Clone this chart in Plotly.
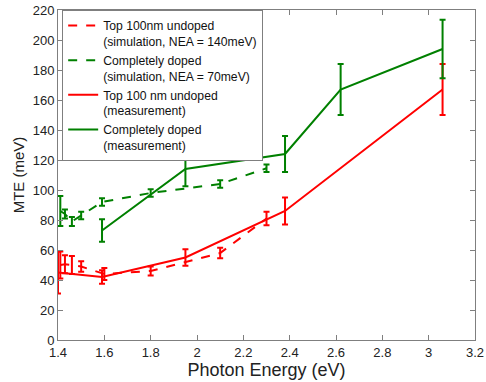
import plotly.graph_objects as go

# Simulation: top 100nm undoped
sim_undoped_x = [1.41, 1.43, 1.46, 1.50, 1.60, 1.80, 2.10, 2.30]
sim_undoped_y = [50, 50.5, 50, 49, 44, 46, 58, 81]
sim_undoped_err = [9, 6, 6, 3.5, 4, 3, 3.5, 4.5]

# Simulation: completely doped
sim_doped_x = [1.41, 1.43, 1.46, 1.50, 1.59, 1.80, 2.10, 2.30]
sim_doped_y = [86, 84, 79, 83, 92, 98, 104, 114.5]
sim_doped_err = [10, 3, 3, 2.5, 2.5, 2.5, 2.5, 2.5]

# Measurement: top 100 nm undoped
meas_undoped_x = [1.40, 1.59, 1.95, 2.38, 3.06]
meas_undoped_y = [45, 42, 55, 86, 167]
meas_undoped_err = [14, 4.5, 5.5, 9, 17]

# Measurement: completely doped
meas_doped_x = [1.59, 1.95, 2.38, 2.62, 3.06]
meas_doped_y = [73, 114, 124, 167, 194]
meas_doped_err = [7.5, 11.5, 12, 17, 19.5]

x_ticks = [1.4, 1.6, 1.8, 2.0, 2.2, 2.4, 2.6, 2.8, 3.0, 3.2]
x_tick_labels = ["1.4", "1.6", "1.8", "2", "2.2", "2.4", "2.6", "2.8", "3", "3.2"]
y_ticks = list(range(0, 221, 20))

RED = "#ff0000"
GREEN = "#008000"

fig = go.Figure()

def add(x, y, err, name, color, dash):
    fig.add_trace(go.Scatter(
        x=x, y=y, mode="lines", name=name,
        line=dict(color=color, width=2, dash=dash),
        error_y=dict(type="data", array=err, visible=True, color=color,
                     thickness=2, width=3),
    ))

add(sim_undoped_x, sim_undoped_y, sim_undoped_err,
    "Top 100nm undoped<br>(simulation, NEA = 140meV)", RED, "dash")
add(sim_doped_x, sim_doped_y, sim_doped_err,
    "Completely doped<br>(simulation, NEA = 70meV)", GREEN, "dash")
add(meas_undoped_x, meas_undoped_y, meas_undoped_err,
    "Top 100 nm undoped<br>(measurement)", RED, "solid")
add(meas_doped_x, meas_doped_y, meas_doped_err,
    "Completely doped<br>(measurement)", GREEN, "solid")

axis_common = dict(
    showline=True, linecolor="#7f7f7f", linewidth=1, mirror="ticks",
    ticks="inside", ticklen=5, tickcolor="#7f7f7f",
    showgrid=False, zeroline=False, automargin=False,
    ticklabeloverflow="allow",
    tickfont=dict(family="Liberation Sans, Arial", size=13, color="#222222"),
)

fig.update_layout(
    width=486, height=382,
    margin=dict(l=58, r=11, t=10, b=42),
    paper_bgcolor="white", plot_bgcolor="white",
    font=dict(family="Liberation Sans, Arial", color="#222222"),
    xaxis=dict(range=[1.4, 3.2], tickvals=x_ticks, ticktext=x_tick_labels,
               ticklabelstandoff=0,
               title=dict(text="Photon Energy (eV)", font=dict(size=18), standoff=0),
               **axis_common),
    yaxis=dict(range=[0, 220], tickvals=y_ticks,
               title=dict(text="MTE (meV)", font=dict(size=15), standoff=4),
               **axis_common),
    legend=dict(x=0.01, y=1.0, xanchor="left", yanchor="top",
                bgcolor="white", bordercolor="#7f7f7f", borderwidth=1,
                font=dict(size=12.2, color="#111111"), valign="top",
                tracegroupgap=0),
    showlegend=True,
)

fig.write_html(
    "out.html",
    config={"displayModeBar": False},
    post_script="document.body.style.margin='0';document.body.style.overflow='hidden';",
)
